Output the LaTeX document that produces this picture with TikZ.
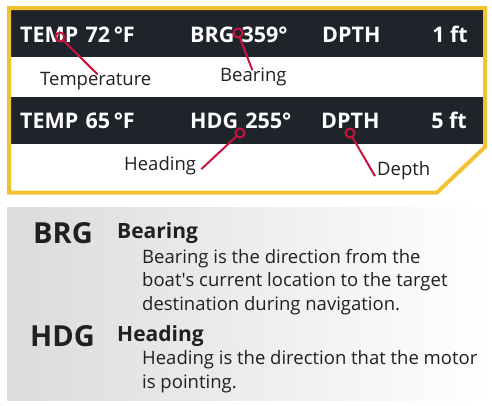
\documentclass[tikz,border=0pt]{standalone}
\usepackage{fontspec}
\setmainfont{Open Sans}
\usepackage{tikz}
\definecolor{frameyellow}{HTML}{F2C232}
\definecolor{banddark}{HTML}{1F232A}
\definecolor{pointred}{HTML}{C8143C}
\definecolor{inkdark}{HTML}{231F20}
\tikzset{
    every node/.append style={inner sep=0pt, text=inkdark},
    bandtext/.style={font=\fontsize{21.5}{24}\selectfont\bfseries, text=white},
    callout/.style={font=\fontsize{18.5}{22}\selectfont},
    dot/.style={circle, draw=pointred, line width=2pt, minimum size=9pt},
    pointer/.style={draw=pointred, line width=2pt},
    abbrev/.style={font=\fontsize{29}{32}\selectfont\bfseries},
    term/.style={font=\fontsize{21}{24}\selectfont\bfseries},
    explain/.style={font=\fontsize{18.5}{23.5}\selectfont, align=left},
}

\begin{document}
\begin{tikzpicture}[x=1pt,y=-1pt]
  \useasboundingbox (0,0) rectangle (492,405);

  % frame and bands
  \fill[white] (9,8) -- (485,8) -- (485,147) -- (437,192.5) -- (9,192.5) -- cycle;
  \fill[banddark] (11,10) rectangle (483,57);
  \fill[banddark] (11,97) rectangle (483,144);
  \draw[frameyellow, line width=4pt, line join=miter]
    (9,8) -- (485,8) -- (485,147) -- (437,192.5) -- (9,192.5) -- cycle;

  % first row
  \node[bandtext, anchor=base west] (temp1) at (20,42) {TEMP\,\,72\,°F};
  \node[bandtext, anchor=base west] (brg) at (190,42) {BRG\,\,359°};
  \node[bandtext, anchor=base west] (dpth1) at (322,42) {DPTH};
  \node[bandtext, anchor=base east] (ft1) at (468,42) {1 ft};

  % second row
  \node[bandtext, anchor=base west] (temp2) at (20,128) {TEMP\,\,65\,°F};
  \node[bandtext, anchor=base west] (hdg) at (190,128) {HDG\,\,255°};
  \node[bandtext, anchor=base west] (dpth2) at (321,128) {DPTH};
  \node[bandtext, anchor=base east] (ft2) at (467,128) {5 ft};

  % callouts
  \node[callout, anchor=base west] (templbl) at (40,85) {Temperature};
  \node[callout, anchor=base west] (brglbl) at (220,81) {Bearing};
  \node[callout, anchor=base west] (hdglbl) at (124,170) {Heading};
  \node[callout, anchor=base west] (dpthlbl) at (377,175) {Depth};

  % pointers
  \node[dot] (tempdot) at (60,37) {};
  \node[dot] (brgdot) at (238,33) {};
  \node[dot] (hdgdot) at (240,133) {};
  \node[dot] (dpthdot) at (350,133) {};
  \draw (tempdot) edge[pointer] ([xshift=2pt,yshift=-3pt]templbl.north);
  \draw (brgdot) edge[pointer] ([xshift=-1pt,yshift=-3pt]brglbl.north);
  \draw (hdgdot) edge[pointer] ([xshift=5pt,yshift=-4pt]hdglbl.east);
  \draw (dpthdot) edge[pointer] ([xshift=-2pt,yshift=-6pt]dpthlbl.west);

  % glossary panel
  \shade[left color=black!14, right color=white] (7,207) rectangle (492,400);
  \node[abbrev, anchor=base west] (brgterm) at (33,243) {BRG};
  \node[term, anchor=base west] (brgname) at (117,238) {Bearing};
  \node[explain, anchor=base west] (brgtext) at (142,310)
    {Bearing is the direction from the\\boat\textquotesingle s current location to the target\\destination during navigation.};
  \node[abbrev, anchor=base west] (hdgterm) at (30,346) {HDG};
  \node[term, anchor=base west] (hdgname) at (117,341) {Heading};
  \node[explain, anchor=base west] (hdgtext) at (142,388)
    {Heading is the direction that the motor\\is pointing.};
\end{tikzpicture}
\end{document}
